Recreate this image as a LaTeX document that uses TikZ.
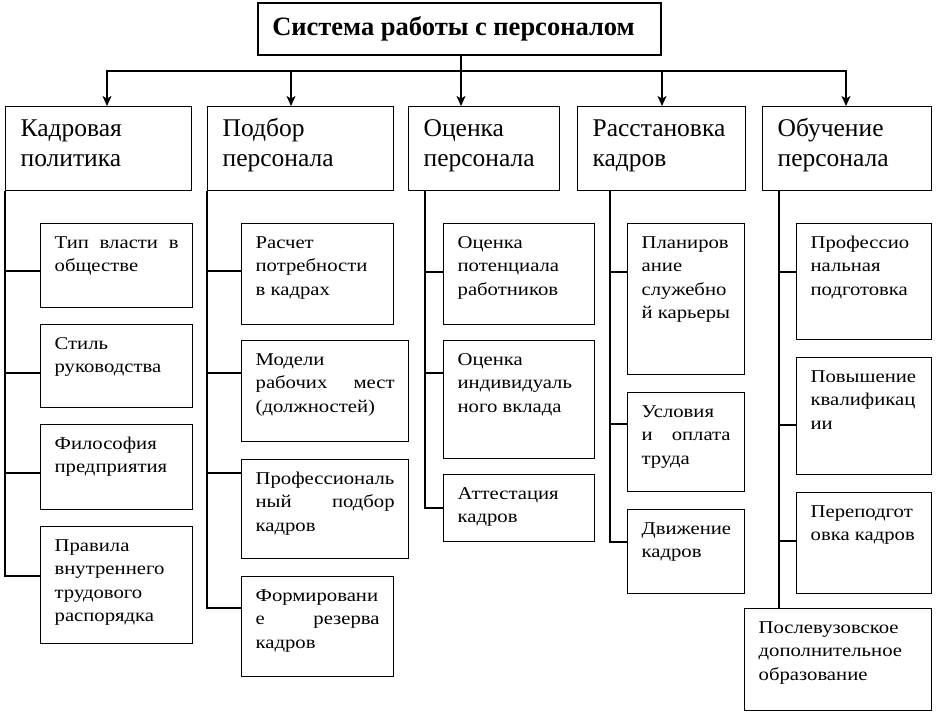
\documentclass[tikz,border=0pt]{standalone}
\usepackage{fontspec}
\setmainfont{Liberation Serif}
\newfontfamily\cfont[FakeStretch=1.15]{Liberation Serif}
\usetikzlibrary{arrows.meta,calc}
\newcommand\jst[1]{\makebox[\linewidth][s]{#1}}
\tikzset{
  ln/.style={line width=1.3pt, line cap=rect},
  arr/.style={line width=1.3pt, -{Stealth[length=10pt,width=9pt,inset=2.5pt]}},
  cbox/.style={draw, line width=1.3pt, inner xsep=14pt, inner ysep=8pt, anchor=north west},
  tbox/.style={draw, line width=1.3pt, inner xsep=15pt, inner ysep=9pt, anchor=north west},
}
% name, x1, y1, x2, y2, text
\newcommand\cbx[6]{\node[cbox] (#1) at (#2,#3) {\parbox[t][\dimexpr #5pt-#3pt-16pt\relax][t]{\dimexpr #4pt-#2pt-28pt\relax}{\cfont\fontsize{18}{23.5}\selectfont\strut #6}};}
\newcommand\tbx[6]{\node[tbox] (#1) at (#2,#3) {\parbox[t][\dimexpr #5pt-#3pt-18pt\relax][t]{\dimexpr #4pt-#2pt-30pt\relax}{\fontsize{25.5}{30}\selectfont\strut #6}};}
\begin{document}
\begin{tikzpicture}[x=1pt,y=-1pt]
\useasboundingbox (0,0) rectangle (936,716);
% title
\node[draw, line width=1.3pt, minimum width=403pt, minimum height=52pt, inner sep=0pt,
      font=\fontsize{26.5}{30}\bfseries\selectfont] (T) at (459.5,29) {\hspace*{-12pt}Система работы с персоналом};
% top level
\tbx{k1}{5}{106}{191}{190}{Кадровая\\политика}
\tbx{k2}{207}{106}{393}{190}{Подбор\\персонала}
\tbx{k3}{408}{106}{559}{190}{Оценка\\персонала}
\tbx{k4}{577}{106}{745}{190}{Расстановка\\кадров}
\tbx{k5}{762}{106}{931}{190}{Обучение\\персонала}
% bus
\coordinate (b1) at (107,71);
\coordinate (b2) at (291,71);
\coordinate (b3) at (461,71);
\coordinate (b4) at (662,71);
\coordinate (b5) at (846,71);
\draw[ln] ([xshift=1.5pt]T.south) -- (b3);
\draw[ln] (b1) -- (b5);
\foreach \i in {1,...,5}{\draw[arr] (b\i) -- (b\i |- k\i.north);}
% children
\cbx{c11}{40}{223}{192}{307}{\jst{Тип власти в}\\обществе}
\cbx{c12}{40}{324}{192}{407}{Стиль\\руководства}
\cbx{c13}{40}{424}{192}{509}{Философия\\предприятия}
\cbx{c14}{40}{526}{192}{643}{Правила\\внутреннего\\трудового\\распорядка}
\cbx{c21}{241}{223}{393}{324}{Расчет\\потребности\\в кадрах}
\cbx{c22}{241}{340}{408}{441}{Модели\\\jst{рабочих мест}\\(должностей)}
\cbx{c23}{241}{459}{408}{558}{Профессиональ\\\jst{ный подбор}\\кадров}
\cbx{c24}{241}{576}{393}{676}{Формировани\\\jst{е резерва}\\кадров}
\cbx{c31}{443}{223}{594}{324}{Оценка\\потенциала\\работников}
\cbx{c32}{443}{340}{594}{458}{Оценка\\индивидуаль\\ного вклада}
\cbx{c33}{443}{474}{594}{541}{Аттестация\\кадров}
\cbx{c41}{627}{223}{744}{374}{Планиров\\ание\\служебно\\й карьеры}
\cbx{c42}{627}{392}{744}{491}{Условия\\\jst{и оплата}\\труда}
\cbx{c43}{627}{509}{744}{593}{Движение\\кадров}
\cbx{c51}{796}{223}{931}{339}{Профессио\\нальная\\подготовка}
\cbx{c52}{796}{357}{931}{474}{Повышение\\квалификац\\ии}
\cbx{c53}{796}{492}{931}{593}{Переподгот\\овка кадров}
\cbx{c55}{744}{608}{931}{710}{Послевузовское\\дополнительное\\образование}
% trunks
\coordinate (t1) at (k1.south west);
\coordinate (t2) at (k2.south west);
\coordinate (t3) at ([xshift=17pt]k3.south west);
\coordinate (t4) at ([xshift=33pt]k4.south west);
\coordinate (t5) at ([xshift=17pt]k5.south west);
\draw[ln] (t1) |- ([yshift=-48pt]c11.north west);
\draw[ln] (t1) |- ([yshift=-49pt]c12.north west);
\draw[ln] (t1) |- ([yshift=-49pt]c13.north west);
\draw[ln] (t1) |- ([yshift=-50pt]c14.north west);
\draw[ln] (t2) |- ([yshift=-48pt]c21.north west);
\draw[ln] (t2) |- ([yshift=-33pt]c22.north west);
\draw[ln] (t2) |- ([yshift=-14pt]c23.north west);
\draw[ln] (t2) |- ([yshift=-32pt]c24.north west);
\draw[ln] (t3) |- ([yshift=-49pt]c31.north west);
\draw[ln] (t3) |- ([yshift=-33pt]c32.north west);
\draw[ln] (t3) |- ([yshift=-34pt]c33.north west);
\draw[ln] (t4) |- ([yshift=-49pt]c41.north west);
\draw[ln] (t4) |- ([yshift=-32pt]c42.north west);
\draw[ln] (t4) |- ([yshift=-33pt]c43.north west);
\draw[ln] (t5) |- ([yshift=-49pt]c51.north west);
\draw[ln] (t5) |- ([yshift=-68pt]c52.north west);
\draw[ln] (t5) |- ([yshift=-49pt]c53.north west);
\draw[ln] (t5) -- (t5 |- c55.north);
\end{tikzpicture}
\end{document}
